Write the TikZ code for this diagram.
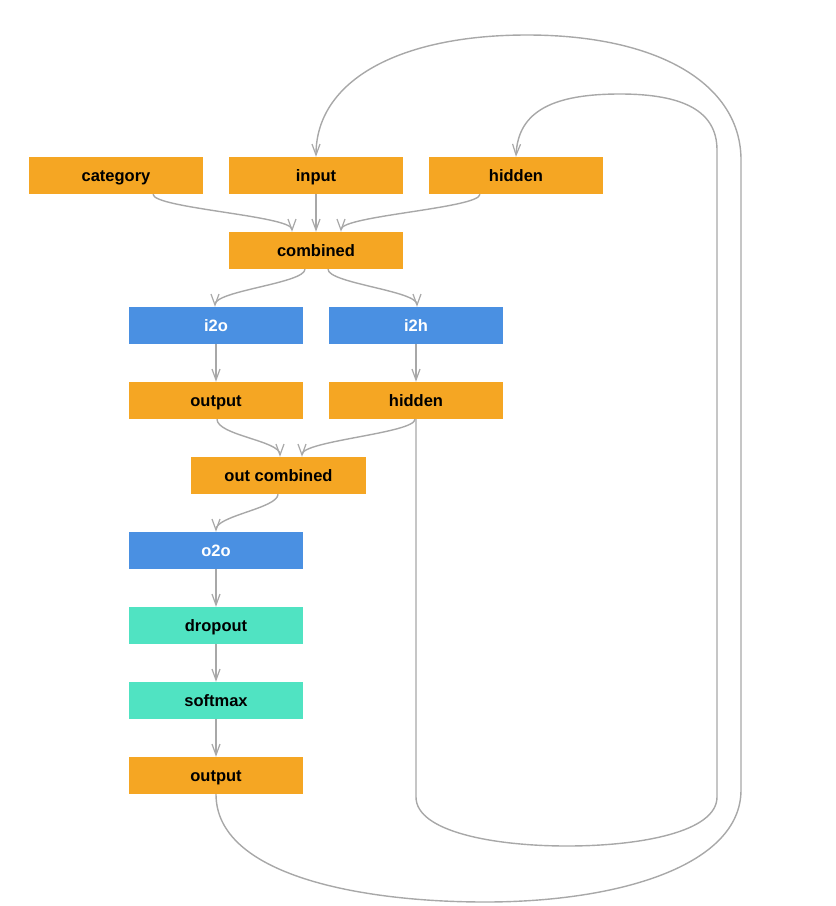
\documentclass[tikz,border=0pt]{standalone}
\usepackage{fontspec}
\setmainfont{Liberation Sans}
\usetikzlibrary{arrows.meta}
\definecolor{orangebox}{HTML}{F5A623}
\definecolor{bluebox}{HTML}{4A90E2}
\definecolor{tealbox}{HTML}{50E3C2}
\definecolor{edgegray}{HTML}{A8A8A8}
\begin{document}
\begin{tikzpicture}[x=1pt,y=-1pt,
  box/.style={minimum width=174pt,minimum height=37pt,inner sep=0pt,text height=14.5pt,text depth=2pt,font=\fontsize{16.5}{20}\selectfont\bfseries},
  obox/.style={box,fill=orangebox,text=black},
  bbox/.style={box,fill=bluebox,text=white},
  tbox/.style={box,fill=tealbox,text=black},
  conn/.style={draw=edgegray,line width=1.4pt,-{Straight Barb[length=11pt,width=8pt,line width=1.2pt]}},
  loop/.style={conn}
]
\useasboundingbox (0,0) rectangle (836,906);
\node[obox] (category) at (116,175.5) {category};
\node[obox] (input) at (316,175.5) {input};
\node[obox] (hiddenin) at (516,175.5) {hidden};
\node[obox] (combined) at (316,250.5) {combined};
\node[bbox] (i2o) at (216,325.5) {i2o};
\node[bbox] (i2h) at (416,325.5) {i2h};
\node[obox] (output1) at (216,400.5) {output};
\node[obox] (hiddenout) at (416,400.5) {hidden};
\node[obox,minimum width=175pt] (outcomb) at (278.5,475.5) {out combined};
\node[bbox] (o2o) at (216,550.5) {o2o};
\node[tbox] (dropout) at (216,625.5) {dropout};
\node[tbox] (softmax) at (216,700.5) {softmax};
\node[obox] (output2) at (216,775.5) {output};

% into combined
\draw[conn] ([xshift=37pt]category.south) .. controls +(0,14) and +(0,-16) .. ([xshift=-24pt]combined.north);
\draw[conn] (input.south) -- (combined.north);
\draw[conn] ([xshift=-36pt]hiddenin.south) .. controls +(0,14) and +(0,-16) .. ([xshift=25pt]combined.north);
% out of combined
\draw[conn] ([xshift=-11pt]combined.south) .. controls +(0,14) and +(0,-16) .. ([xshift=-1pt]i2o.north);
\draw[conn] ([xshift=12pt]combined.south) .. controls +(0,14) and +(0,-16) .. ([xshift=1pt]i2h.north);
\draw[conn] (i2o.south) -- (output1.north);
\draw[conn] (i2h.south) -- (hiddenout.north);
% into out combined
\draw[conn] ([xshift=1pt]output1.south) .. controls +(0,16) and +(0,-16) .. ([xshift=1.5pt]outcomb.north);
\draw[conn] ([xshift=-1pt]hiddenout.south) .. controls +(0,14) and +(0,-16) .. ([xshift=23.5pt]outcomb.north);
\draw[conn] ([xshift=-0.5pt]outcomb.south) .. controls +(0,14) and +(0,-16) .. (o2o.north);
\draw[conn] (o2o.south) -- (dropout.north);
\draw[conn] (dropout.south) -- (softmax.north);
\draw[conn] (softmax.south) -- (output2.north);

% inner loop: hidden -> hidden
\coordinate (ib) at (567,846);
\coordinate (it) at (620,94);
\draw[loop] (hiddenout.south) -- (416,797) .. controls (416,832) and (495,846) .. (ib)
  .. controls (640,846) and (717,832) .. (717,797) -- (717,150)
  .. controls (717,112) and (685,94) .. (it)
  .. controls (555,94) and (518,110) .. (hiddenin.north);
% outer loop: output -> input
\coordinate (ob) at (485,902);
\coordinate (ot) at (527,35);
\draw[loop] (output2.south) .. controls (216,875) and (360,902) .. (ob)
  .. controls (620,902) and (741,865) .. (741,790) -- (741,160)
  .. controls (741,85) and (660,35) .. (ot)
  .. controls (400,35) and (316,80) .. (input.north);
\end{tikzpicture}
\end{document}
